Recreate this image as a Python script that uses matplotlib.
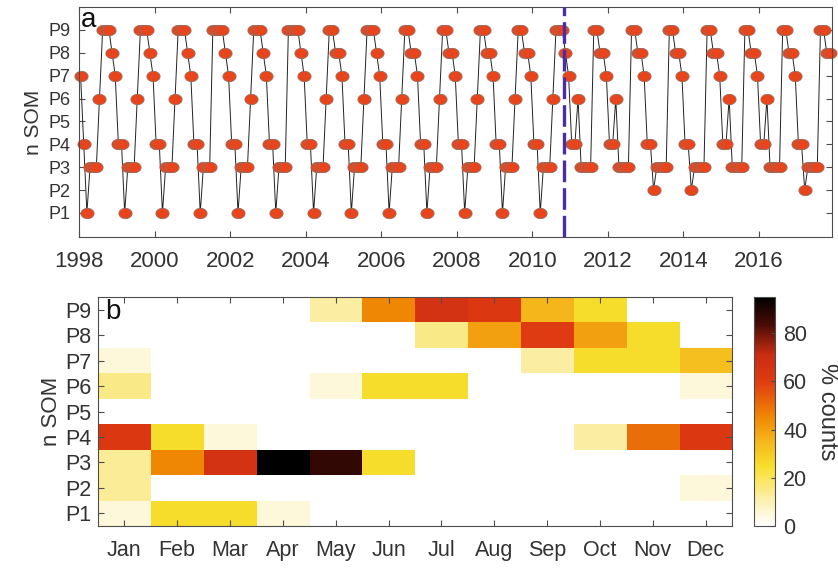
import numpy as np
import matplotlib
matplotlib.use("Agg")
import matplotlib.pyplot as plt
from matplotlib.colors import LinearSegmentedColormap

plt.rcParams['font.family'] = ['Liberation Sans', 'DejaVu Sans']

# monthly SOM pattern index (one row per year, first value is the month before 1998)
som_first = [7]
som_rows = [
    [4, 1, 3, 3, 3, 6, 9, 9, 9, 8, 7, 4],  # 1998
    [4, 1, 3, 3, 3, 6, 9, 9, 9, 8, 7, 4],
    [4, 1, 3, 3, 3, 6, 9, 9, 9, 8, 7, 4],
    [4, 1, 3, 3, 3, 9, 9, 9, 9, 8, 7, 4],
    [4, 1, 3, 3, 3, 6, 9, 9, 9, 8, 7, 4],
    [4, 1, 3, 3, 3, 9, 9, 9, 9, 8, 7, 4],  # 2003
    [4, 1, 3, 3, 3, 6, 9, 9, 8, 8, 7, 4],
    [4, 1, 3, 3, 3, 6, 9, 9, 9, 8, 7, 4],
    [4, 1, 3, 3, 3, 6, 9, 9, 8, 8, 7, 4],
    [4, 1, 3, 3, 3, 6, 9, 9, 8, 8, 7, 4],
    [4, 1, 3, 3, 3, 6, 9, 9, 8, 8, 7, 4],  # 2008
    [4, 1, 3, 3, 3, 6, 9, 9, 8, 8, 7, 4],
    [4, 1, 3, 3, 3, 6, 9, 9, 9, 8, 7, 4],
    [4, 6, 3, 3, 3, 3, 9, 9, 8, 8, 7, 4],
    [4, 6, 3, 3, 3, 3, 9, 9, 8, 8, 7, 4],
    [4, 2, 3, 3, 3, 3, 9, 9, 8, 8, 7, 4],  # 2013
    [4, 2, 3, 3, 3, 3, 9, 9, 8, 8, 7, 4],
    [4, 6, 3, 3, 3, 3, 9, 9, 8, 8, 7, 4],
    [4, 6, 3, 3, 3, 3, 9, 9, 8, 8, 7, 4],
    [4, 2, 3, 3, 3, 3, 9, 9, 8, 8],        # 2017
]
split_year = 2010.83

pattern_labels = ['P1', 'P2', 'P3', 'P4', 'P5', 'P6', 'P7', 'P8', 'P9']
month_labels = ['Jan', 'Feb', 'Mar', 'Apr', 'May', 'Jun',
                'Jul', 'Aug', 'Sep', 'Oct', 'Nov', 'Dec']

# % of years each pattern occurs in a given month (rows P1..P9)
pct_p1 = [5, 25, 25, 5, 0, 0, 0, 0, 0, 0, 0, 0]
pct_p2 = [13, 0, 0, 0, 0, 0, 0, 0, 0, 0, 0, 5]
pct_p3 = [13, 45, 66, 95, 87, 25, 0, 0, 0, 0, 0, 0]
pct_p4 = [62, 25, 5, 0, 0, 0, 0, 0, 0, 12, 50, 62]
pct_p5 = [0, 0, 0, 0, 0, 0, 0, 0, 0, 0, 0, 0]
pct_p6 = [15, 0, 0, 0, 5, 25, 25, 0, 0, 0, 0, 5]
pct_p7 = [5, 0, 0, 0, 0, 0, 0, 0, 12, 25, 25, 33]
pct_p8 = [0, 0, 0, 0, 0, 0, 15, 40, 60, 40, 25, 0]
pct_p9 = [0, 0, 0, 0, 12, 45, 66, 62, 35, 25, 0, 0]

som = np.array(som_first + [v for row in som_rows for v in row])
t = 1998 + (np.arange(len(som)) + 0.5) / 12
pct = np.array([pct_p1, pct_p2, pct_p3, pct_p4, pct_p5,
                pct_p6, pct_p7, pct_p8, pct_p9], dtype=float)

cmap = LinearSegmentedColormap.from_list('counts', [
    (0.00, '#ffffff'), (0.12, '#fcefa8'), (0.26, '#f8df2c'),
    (0.37, '#f5b61c'), (0.47, '#f08a04'), (0.63, '#e03c12'),
    (0.75, '#c82c12'), (0.88, '#4a0c06'), (1.00, '#000000')])

axis_col = '#4d4d4d'
text_col = '#333333'

fig = plt.figure(figsize=(8.38, 5.70), dpi=100)
ax1 = fig.add_axes([0.0943, 0.5842, 0.8985, 0.4035])
ax2 = fig.add_axes([0.1169, 0.0772, 0.7566, 0.4017])
cax = fig.add_axes([0.8998, 0.0772, 0.025, 0.4017])

# --- a: time series ---
theta = np.linspace(0, 2 * np.pi, 60)
ellipse = np.column_stack([np.cos(theta), 0.78 * np.sin(theta)])
ax1.plot(t, som, color='#222222', lw=0.7, marker=ellipse, ms=9.5,
         mfc='#e8451c', mec='#9a6a5c', mew=0.6, clip_on=False, zorder=2)
ax1.axvline(split_year, color='#4a2cab', lw=2.4, dashes=(6.5, 1.8), zorder=3)

ax1.set_xlim(1998, 2017.93)
ax1.set_ylim(-0.05, 10)
ax1.set_xticks(range(1998, 2017, 2))
ax1.set_yticks(range(1, 10))
ax1.set_yticklabels(pattern_labels)
ax1.tick_params(direction='in', top=True, right=True, length=4, width=0.8,
                color=axis_col, labelcolor=text_col)
ax1.tick_params(axis='x', labelsize=16, pad=10)
ax1.tick_params(axis='y', labelsize=13, pad=6)
ax1.set_ylabel('n SOM', fontsize=15, color=text_col, labelpad=4)
ax1.text(0.003, 1.0, 'a', transform=ax1.transAxes, fontsize=20,
         ha='left', va='top', color='#111111')

# --- b: monthly occurrence ---
im = ax2.imshow(pct, origin='lower', extent=(0.5, 12.5, 0.5, 9.5),
                aspect='auto', cmap=cmap, vmin=0, vmax=95,
                interpolation='nearest')
ax2.set_xticks(range(1, 13))
ax2.set_xticklabels(month_labels)
ax2.set_yticks(range(1, 10))
ax2.set_yticklabels(pattern_labels)
ax2.tick_params(direction='in', top=True, right=True, length=4, width=0.8,
                color=axis_col, labelcolor=text_col, labelsize=15.5)
ax2.tick_params(axis='x', pad=10)
ax2.tick_params(axis='y', pad=5)
ax2.set_ylabel('n SOM', fontsize=16, color=text_col, labelpad=2)
ax2.text(0.012, 0.99, 'b', transform=ax2.transAxes, fontsize=20,
         ha='left', va='top', color='#111111')

cb = fig.colorbar(im, cax=cax)
cb.set_ticks([0, 20, 40, 60, 80])
cb.outline.set_edgecolor(axis_col)
cb.outline.set_linewidth(0.8)
cax.tick_params(direction='in', length=3, width=0.8, color=axis_col,
                labelcolor=text_col, labelsize=15.5, pad=6)
cax.set_ylabel('% counts', rotation=270, fontsize=17, color=text_col,
               labelpad=22)

for ax in (ax1, ax2):
    for s in ax.spines.values():
        s.set_color(axis_col)
        s.set_linewidth(0.8)

fig.savefig('out.png', dpi=100)
